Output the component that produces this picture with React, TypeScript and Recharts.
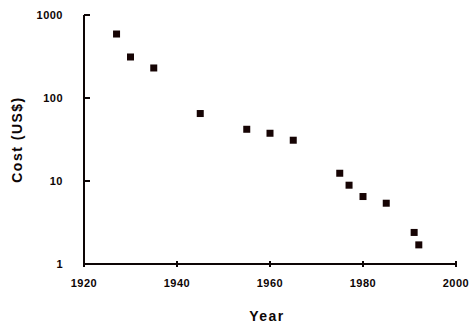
import { ScatterChart, Scatter, XAxis, YAxis } from 'recharts';

const years = [1927, 1930, 1935, 1945, 1955, 1960, 1965, 1975, 1977, 1980, 1985, 1991, 1992];
const costs = [590, 312, 230, 65, 42, 37.6, 31, 12.4, 8.9, 6.5, 5.4, 2.4, 1.7];
const xTicks = [1920, 1940, 1960, 1980, 2000];
const yTicks = [1, 10, 100, 1000];

const data = years.map((year, i) => ({ year, cost: costs[i] }));

const INK = '#0d0505';
const FONT = '"Liberation Sans", Arial, Helvetica, sans-serif';
const Y_MARGIN = 21;
const X_MARGIN = 15;

const YTick = (props: any) => {
  const { x, y, payload } = props;
  const ax = x + Y_MARGIN;
  return (
    <g>
      <line x1={ax} x2={ax + 6} y1={y} y2={y} stroke={INK} strokeWidth={2} />
      <text x={x} y={y} dy="0.36em" textAnchor="end" fontSize={11} fontWeight="bold" letterSpacing={0.5} fill={INK} fontFamily={FONT}>
        {payload.value}
      </text>
    </g>
  );
};

const XTick = (props: any) => {
  const { x, y, payload } = props;
  const ay = y - X_MARGIN;
  return (
    <g>
      <line x1={x} x2={x} y1={ay - 3} y2={ay + 3} stroke={INK} strokeWidth={2} />
      <text x={x} y={y} dy="0.71em" textAnchor="middle" fontSize={11} fontWeight="bold" letterSpacing={0.5} fill={INK} fontFamily={FONT}>
        {payload.value}
      </text>
    </g>
  );
};

const Square = (props: any) => {
  const { cx, cy } = props;
  return <rect x={cx - 3.5} y={cy - 3.5} width={7} height={7} fill="#160404" />;
};

const XLabel = (props: any) => {
  const { x, y, width } = props.viewBox;
  return (
    <text x={x + width / 2 - 3} y={y + 57} textAnchor="middle" fontSize={14} fontWeight="bold" letterSpacing={1.5} fill={INK} fontFamily={FONT}>
      Year
    </text>
  );
};

const YLabel = (props: any) => {
  const { x, y, height } = props.viewBox;
  const cx = x + 17;
  const cy = y + height / 2;
  return (
    <text x={cx} y={cy} transform={`rotate(-90 ${cx} ${cy})`} textAnchor="middle" dominantBaseline="central" fontSize={14} fontWeight="bold" letterSpacing={1.5} fill={INK} fontFamily={FONT}>
      Cost (US$)
    </text>
  );
};

export default function App() {
  return (
    <div style={{ position: 'absolute', left: 0, top: 0, width: 475, height: 331, background: '#fff' }}>
      <ScatterChart width={475} height={331} margin={{ top: 15, right: 19, bottom: 0, left: 0 }}>
        <XAxis
          type="number"
          dataKey="year"
          domain={[1920, 2000]}
          ticks={xTicks}
          height={67}
          axisLine={{ stroke: INK, strokeWidth: 2 }}
          tickLine={false}
          tickSize={0}
          tickMargin={X_MARGIN}
          tick={<XTick />}
          interval={0}
          label={<XLabel />}
        />
        <YAxis
          type="number"
          dataKey="cost"
          scale="log"
          domain={[1, 1000]}
          ticks={yTicks}
          allowDataOverflow
          width={84}
          axisLine={{ stroke: INK, strokeWidth: 2 }}
          tickLine={false}
          tickSize={0}
          tickMargin={Y_MARGIN}
          tick={<YTick />}
          interval={0}
          label={<YLabel />}
        />
        <Scatter data={data} shape={<Square />} isAnimationActive={false} />
      </ScatterChart>
    </div>
  );
}
